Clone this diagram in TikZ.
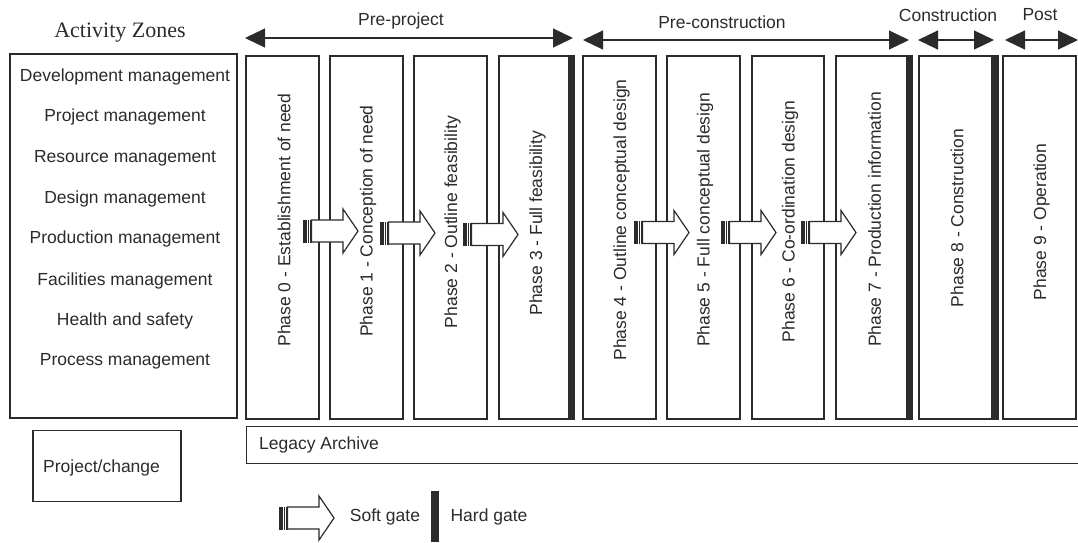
\documentclass[tikz,border=0pt]{standalone}
\usepackage{fontspec}
\setmainfont{Liberation Sans}
\newfontfamily\zoneserif{Liberation Serif}
\usetikzlibrary{arrows.meta}
\definecolor{ink}{HTML}{2B2B2B}
\tikzset{
  softgate/.pic={
    % striped tail followed by a hollow block arrow
    \fill[ink] (0,-11.5) rectangle (8.5,11.5);
    \fill[white] (3.6,-11.5) rectangle (4.3,11.5);
    \fill[white] (6.0,-11.5) rectangle (6.7,11.5);
    \draw[ink, line width=1.2pt, fill=white, line join=miter]
      (8.5,-11) -- (40,-11) -- (40,-22) -- (55,0) -- (40,22) -- (40,11) -- (8.5,11) -- cycle;
  }
}
\begin{document}
\begin{tikzpicture}[x=1pt,y=-1pt,
  every node/.style={text=ink, inner sep=0pt, font=\fontsize{17.5}{21}\selectfont},
  phasebox/.style={draw=ink, line width=1.6pt, fill=white, minimum height=363pt},
  phasetext/.style={rotate=90},
  hardbar/.style={fill=ink},
  zonebox/.style={draw=ink, line width=1.2pt},
  toparrow/.style={draw=ink, line width=1.1pt,
    {Triangle[length=20pt,width=19pt]}-{Triangle[length=20pt,width=19pt]}},
  toplabel/.style={}
]
\useasboundingbox (0,0) rectangle (1078,542);

% activity zones column
\node[font=\zoneserif\fontsize{22}{26}\selectfont] (title) at (120,33) {Activity Zones};
\node[zonebox, minimum width=227pt, minimum height=364pt] (zones) at (123.5,236) {};
\node (a1) at (125,77)  {Development management};
\node (a2) at (125,117) {Project management};
\node (a3) at (125,158) {Resource management};
\node (a4) at (125,199) {Design management};
\node (a5) at (125,239) {Production management};
\node (a6) at (125,281) {Facilities management};
\node (a7) at (125,321) {Health and safety};
\node (a8) at (125,361) {Process management};

% phase columns
\node[phasebox, minimum width=73pt] (p0) at (282.5,237.5) {};
\node[phasebox, minimum width=73pt] (p1) at (366.5,237.5) {};
\node[phasebox, minimum width=73pt] (p2) at (450.5,237.5) {};
\node[phasebox, minimum width=74pt] (p3) at (536,237.5) {};
\node[phasebox, minimum width=73pt] (p4) at (619.5,237.5) {};
\node[phasebox, minimum width=73pt] (p5) at (703.5,237.5) {};
\node[phasebox, minimum width=72pt] (p6) at (788,237.5) {};
\node[phasebox, minimum width=75pt] (p7) at (873.5,237.5) {};
\node[phasebox, minimum width=78pt] (p8) at (958,237.5) {};
\node[phasebox, minimum width=73pt] (p9) at (1039.5,237.5) {};

% hard gates: thick bar on the closing edge of a stage
\fill[hardbar] ([xshift=-6pt]p3.north east) rectangle ([xshift=0.8pt]p3.south east);
\fill[hardbar] ([xshift=-6pt]p7.north east) rectangle ([xshift=0.8pt]p7.south east);
\fill[hardbar] ([xshift=-7pt]p8.north east) rectangle ([xshift=0.8pt]p8.south east);

\node[phasetext] (t0) at (284,220) {Phase 0 - Establishment of need};
\node[phasetext] (t1) at (368,221) {Phase 1 - Conception of need};
\node[phasetext] (t2) at (452.5,222) {Phase 2 - Outline feasibility};
\node[phasetext] (t3) at (537.5,223) {Phase 3 - Full feasibility};
\node[phasetext] (t4) at (621.5,220) {Phase 4 - Outline conceptual design};
\node[phasetext] (t5) at (705,220) {Phase 5 - Full conceptual design};
\node[phasetext] (t6) at (790,221.5) {Phase 6 - Co-ordination design};
\node[phasetext] (t7) at (874.5,219.5) {Phase 7 - Production information};
\node[phasetext] (t8) at (957,218) {Phase 8 - Construction};
\node[phasetext] (t9) at (1041.5,222) {Phase 9 - Operation};

% soft gates between consecutive phases
\pic at (303,231) {softgate};
\pic at (380,233) {softgate};
\pic at (463,234.5) {softgate};
\pic at (634,232.5) {softgate};
\pic at (721,232.5) {softgate};
\pic at (801,232.5) {softgate};

% stage spans
\coordinate (pp-l) at (245,38);   \coordinate (pp-r) at (573,38);
\coordinate (pc-l) at (583,40);   \coordinate (pc-r) at (909,40);
\coordinate (co-l) at (918,40);   \coordinate (co-r) at (994,40);
\coordinate (po-l) at (1005,40);  \coordinate (po-r) at (1078,40);
\draw[toparrow] (pp-l) -- (pp-r);
\draw[toparrow] (pc-l) -- (pc-r);
\draw[toparrow] (co-l) -- (co-r);
\draw[toparrow] (po-l) -- (po-r);
\node[toplabel] (s1) at (401,21) {Pre-project};
\node[toplabel] (s2) at (722,22) {Pre-construction};
\node[toplabel] (s3) at (948,15) {Construction};
\node[toplabel] (s4) at (1040,15) {Post};

% archive strip
\node[zonebox, minimum width=832pt, minimum height=37pt, anchor=north west] (legacy) at (245.5,426) {};
\node[anchor=west] (legacytext) at (259,445) {Legacy Archive};

% project/change box
\node[draw=ink, line width=1.6pt, minimum width=148pt, minimum height=71pt] (proj) at (107,466) {};
\node[anchor=west] (projtext) at (43,468) {Project/change};

% legend
\pic at (279,518) {softgate};
\node (softtext) at (385,517) {Soft gate};
\fill[hardbar] (431,491) rectangle (439,542);
\node (hardtext) at (489,517) {Hard gate};
\end{tikzpicture}
\end{document}
